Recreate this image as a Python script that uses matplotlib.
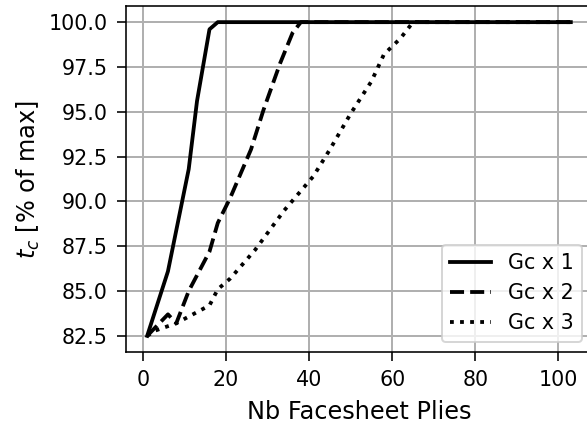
import matplotlib
import matplotlib.pyplot as plt

matplotlib.use('Agg')

# nombre de plis -> t_c en % du max
plies_gc1 = [1, 6, 11, 13, 16, 18, 103]
tc_gc1 = [82.5, 86.1, 91.8, 95.6, 99.6, 100.0, 100.0]

plies_gc2 = [1, 6, 8, 11, 16, 18, 21, 26, 29, 33, 36, 38, 103]
tc_gc2 = [82.5, 83.7, 83.2, 85.0, 87.2, 88.8, 90.2, 92.9, 95.1, 97.7, 99.4, 100.0, 100.0]

plies_gc3 = [1, 3, 8, 12, 16, 18, 21, 27, 34, 41, 45, 50, 55, 58, 62, 65, 103]
tc_gc3 = [82.5, 82.8, 83.2, 83.7, 84.2, 85.1, 85.7, 87.3, 89.5, 91.4, 92.9, 94.9,
          96.7, 98.2, 99.1, 100.0, 100.0]

DPI = 144
W, H = 587, 423
plt.rcParams['font.size'] = 10.3
plt.rcParams['axes.labelsize'] = 12
plt.rcParams['axes.labelpad'] = 4.8
plt.rcParams['lines.linewidth'] = 1.9
plt.rcParams['grid.linewidth'] = 1.0
for axis in ('xtick', 'ytick'):
    plt.rcParams[f'{axis}.major.size'] = 4.4
    plt.rcParams[f'{axis}.major.pad'] = 4.8

fig = plt.figure(figsize=(W / DPI, H / DPI), dpi=DPI)
ax = fig.add_axes([126 / W, (H - 352) / H, (592 - 126) / W, (352 - 6) / H])

ax.plot(plies_gc1, tc_gc1, color='black', linestyle='-', label='Gc x 1')
ax.plot(plies_gc2, tc_gc2, color='black', linestyle='--', label='Gc x 2')
ax.plot(plies_gc3, tc_gc3, color='black', linestyle=':', label='Gc x 3')

ax.set_xticks([0, 20, 40, 60, 80, 100])
ax.set_yticks([82.5, 85.0, 87.5, 90.0, 92.5, 95.0, 97.5, 100.0])
ax.set_ylim(81.6, 100.9)

ax.set_xlabel('Nb Facesheet Plies')
ax.set_ylabel('$t_c$ [% of max]', labelpad=3)
ax.grid(True)
ax.legend(loc='lower right')

fig.savefig('out.png', dpi=DPI)
